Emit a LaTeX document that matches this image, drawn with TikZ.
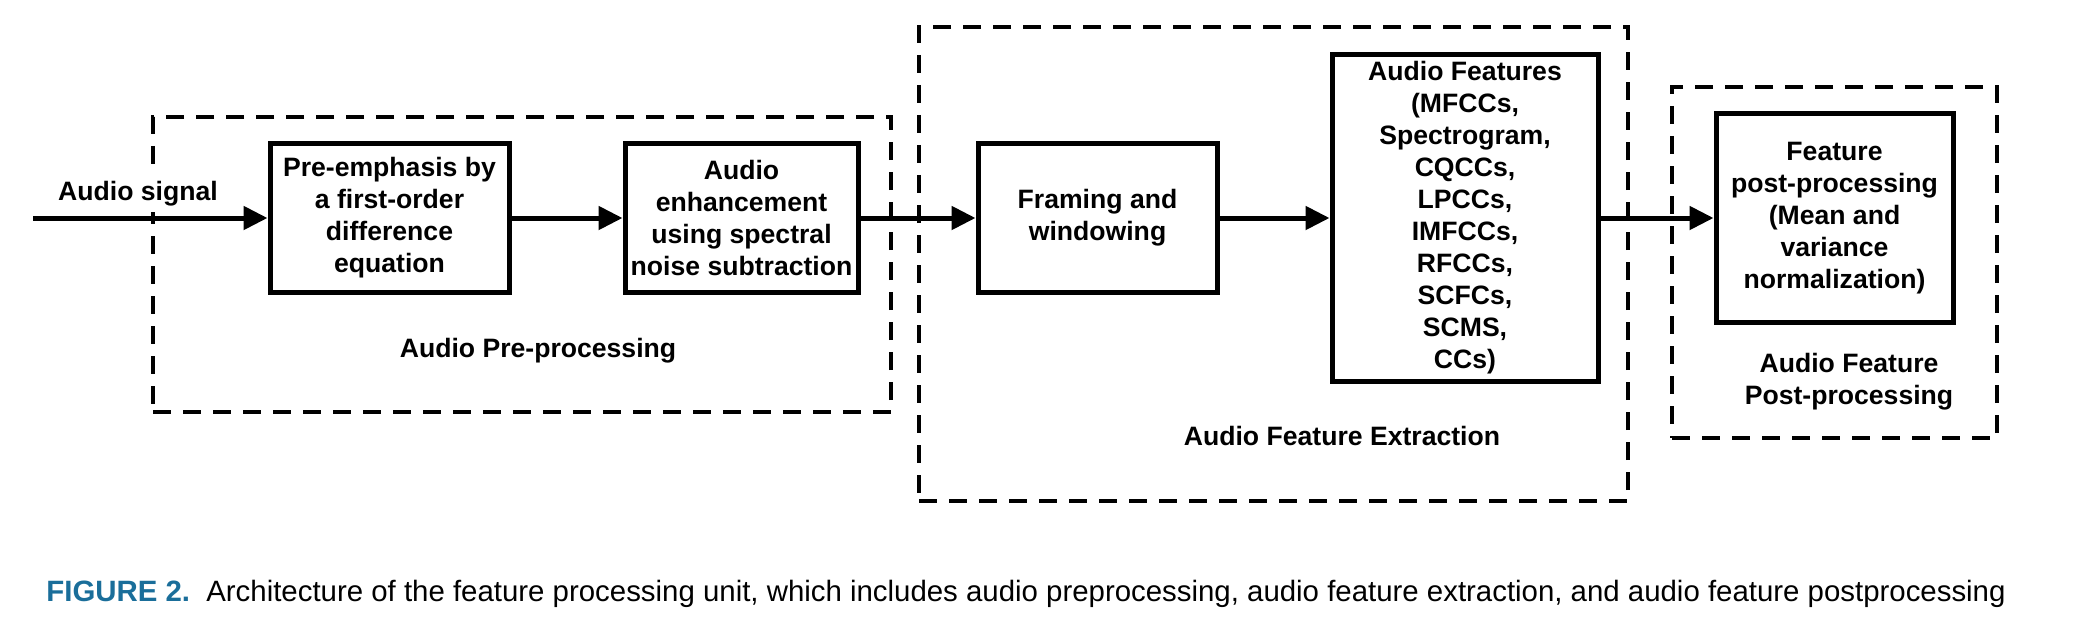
\documentclass[tikz,border=0pt]{standalone}
\usepackage{fontspec}
\setmainfont{Liberation Sans}
\usetikzlibrary{arrows.meta}
\definecolor{capblue}{HTML}{1A6E9A}
\begin{document}
\begin{tikzpicture}[x=0.5pt,y=-0.5pt,
  blk/.style={draw=black, line width=2.5pt, fill=white, align=center, inner sep=2pt,
    font=\fontsize{13.3}{16}\selectfont\bfseries},
  grp/.style={draw=black, line width=2.3pt, dash pattern=on 9pt off 6pt, inner sep=0pt},
  lbl/.style={align=center, inner sep=0pt, font=\fontsize{13.3}{16}\selectfont\bfseries},
  flow/.style={line width=2.5pt, -{Triangle[length=12pt,width=11.5pt]}}]
\useasboundingbox (0,0) rectangle (2082,642);
% group boxes
\node[grp, minimum width=369pt, minimum height=147.5pt] (g1) at (522,264.5) {};
\node[grp, minimum width=354.5pt, minimum height=237pt] (g2) at (1273.5,264) {};
\node[grp, minimum width=162.5pt, minimum height=175.5pt] (g3) at (1834.5,262.5) {};
% blocks
\node[blk, minimum width=119.5pt, minimum height=74.5pt] (b1) at (389.5,218) {Pre-emphasis by\\a first-order\\difference\\equation};
\node[blk, minimum width=116.5pt, minimum height=74.5pt] (b2) at (741.5,218) {Audio\\enhancement\\using spectral\\noise subtraction};
\node[blk, minimum width=119.5pt, minimum height=74.5pt] (b3) at (1097.5,218) {Framing and\\windowing};
\node[blk, minimum width=133pt, minimum height=163.5pt] (b4) at (1465,218) {Audio Features\\(MFCCs,\\Spectrogram,\\CQCCs,\\LPCCs,\\IMFCCs,\\RFCCs,\\SCFCs,\\SCMS,\\CCs)};
\node[blk, minimum width=118.5pt, minimum height=104pt] (b5) at (1834.5,218) {Feature\\post-processing\\(Mean and\\variance\\normalization)};
% labels
\node[lbl] (t1) at (538,351) {Audio Pre-processing};
\node[lbl] (t2) at (1342,436) {Audio Feature Extraction};
\node[lbl] (t3) at (1849,382) {Audio Feature\\Post-processing};
% input
\coordinate (in) at (33,218);
\node[lbl, fill=white, inner ysep=3pt, inner xsep=1pt] (sig) at (138,194) {Audio signal};
% connectors
\draw[flow] (in) -- (b1.west);
\draw[flow] (b1.east) -- (b2.west);
\draw[flow] (b2.east) -- (b3.west);
\draw[flow] (b3.east) -- (b4.west);
\draw[flow] (b4.east) -- (b5.west);
% caption
\node[anchor=west, inner sep=0pt, font=\fontsize{14.7}{17}\selectfont] (cap) at (46,594)
  {\textcolor{capblue}{\bfseries FIGURE 2.}\hspace{0.55em}Architecture of the feature processing unit, which includes audio preprocessing, audio feature extraction, and audio feature postprocessing};
\end{tikzpicture}
\end{document}
